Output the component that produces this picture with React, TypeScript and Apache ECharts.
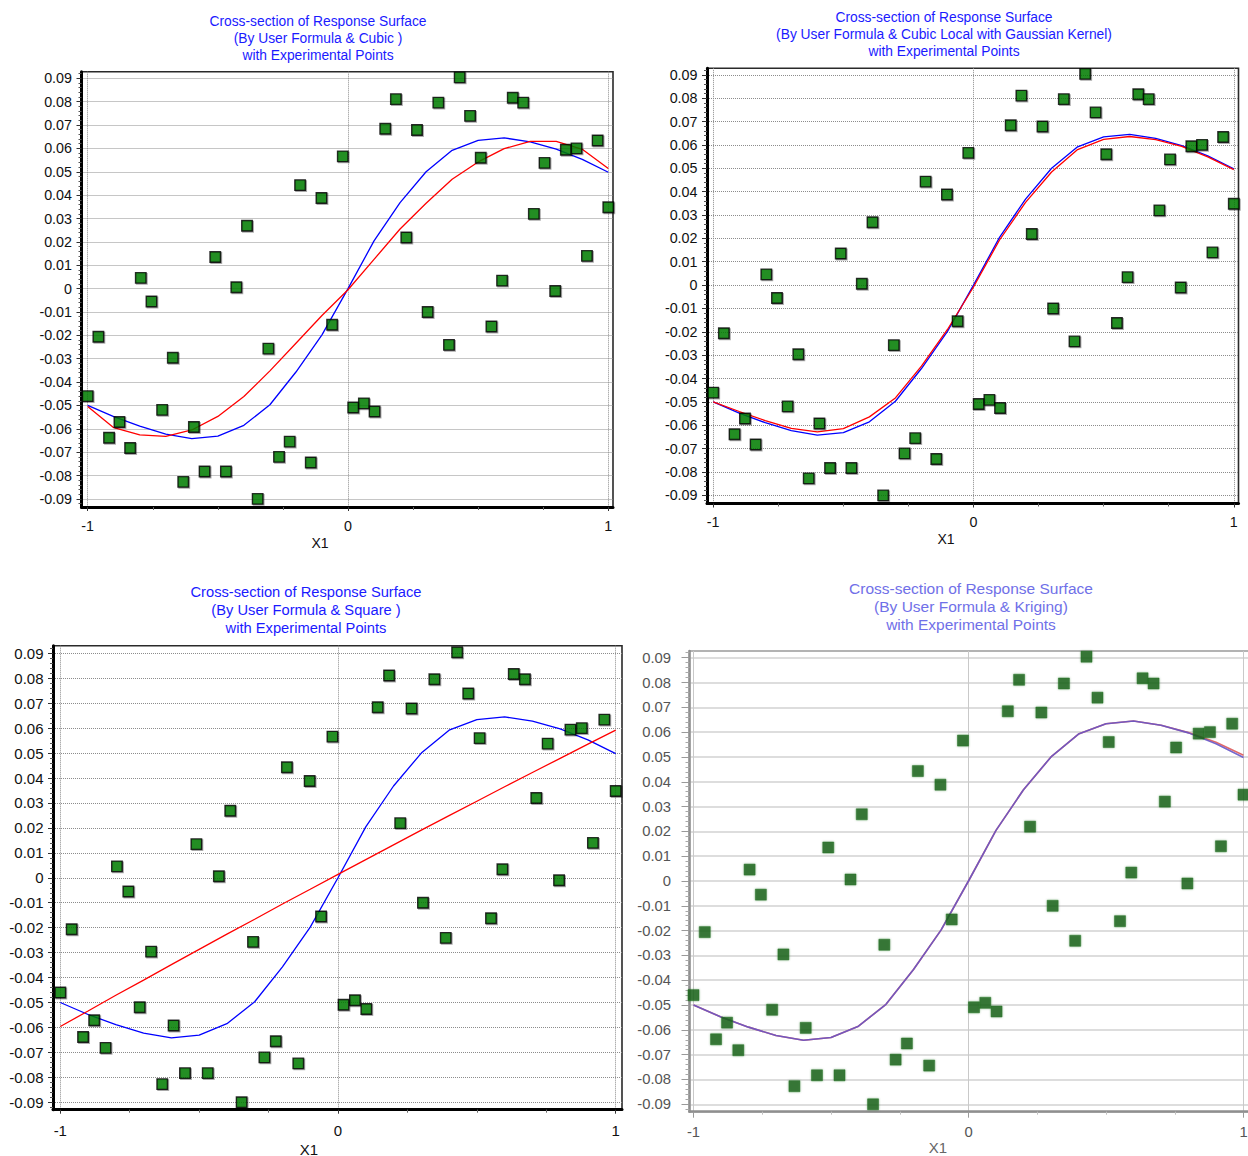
import React, { useEffect, useRef } from "react";
import * as echarts from "echarts";

// ---------- data ----------
const nodeX = [-1, -0.9, -0.8, -0.7, -0.6, -0.5, -0.4, -0.3, -0.2, -0.1, 0, 0.1, 0.2, 0.3, 0.4, 0.5, 0.6, 0.7, 0.8, 0.9, 1];

// "User Formula" curve (blue)
const userFormula = [-0.05, -0.0548, -0.0589, -0.0623, -0.0642, -0.0631, -0.0585, -0.0497, -0.0357, -0.0198, 0.0, 0.0204, 0.0368, 0.05, 0.0592, 0.0634, 0.0645, 0.0628, 0.0597, 0.0553, 0.0498];
// Cubic model (red, panel 1)
const cubic = [-0.0505, -0.0595, -0.0626, -0.0632, -0.0605, -0.0547, -0.0462, -0.0352, -0.0234, -0.0115, -0.0005, 0.0125, 0.0255, 0.0365, 0.0468, 0.0542, 0.0599, 0.063, 0.063, 0.0596, 0.0514];
// Cubic Local with Gaussian Kernel (red, panel 2)
const cubicLocal = [-0.05, -0.0541, -0.058, -0.0613, -0.0628, -0.0614, -0.0564, -0.0483, -0.0347, -0.019, -0.0008, 0.0193, 0.0354, 0.0484, 0.058, 0.0624, 0.0636, 0.0623, 0.0594, 0.0549, 0.0494];
// Square model (red, panel 3)
const square = [-0.0596, -0.0534, -0.0471, -0.041, -0.0348, -0.0287, -0.0226, -0.0166, -0.0105, -0.0046, 0.0014, 0.0073, 0.0132, 0.0191, 0.0249, 0.0307, 0.0365, 0.0422, 0.0479, 0.0536, 0.0592];
// Kriging (red, panel 4)
const kriging = [-0.05, -0.0548, -0.0589, -0.0623, -0.0642, -0.0631, -0.0585, -0.0497, -0.0357, -0.0198, 0.0, 0.0204, 0.0368, 0.05, 0.0592, 0.0634, 0.0645, 0.0628, 0.0598, 0.0559, 0.0507];

// Experimental points
const pointX = [-1, -0.959, -0.918, -0.878, -0.837, -0.796, -0.755, -0.714, -0.673, -0.633, -0.592, -0.551, -0.51, -0.469, -0.429, -0.388, -0.347, -0.306, -0.265, -0.224, -0.184, -0.143, -0.102, -0.061, -0.02, 0.02, 0.061, 0.102, 0.143, 0.184, 0.224, 0.265, 0.306, 0.347, 0.388, 0.429, 0.469, 0.51, 0.551, 0.592, 0.633, 0.673, 0.714, 0.755, 0.796, 0.837, 0.878, 0.918, 0.959, 1];
const pointY = [-0.046, -0.0206, -0.0638, -0.0571, -0.0682, 0.0046, -0.0055, -0.0519, -0.0296, -0.0827, -0.0592, -0.0783, 0.0135, -0.0783, 0.0006, 0.0269, -0.09, -0.0257, -0.072, -0.0655, 0.0443, -0.0744, 0.0388, -0.0155, 0.0566, -0.0509, -0.0491, -0.0526, 0.0684, 0.0811, 0.0219, 0.0679, -0.01, 0.0796, -0.0241, 0.0904, 0.0739, 0.056, -0.0162, 0.0034, 0.0817, 0.0796, 0.032, 0.0538, -0.001, 0.0594, 0.06, 0.014, 0.0634, 0.0348];

// Tick labels
const xTickValues = [-1, 0, 1];
const xMinorTickValues = [-0.75, -0.5, -0.25, 0.25, 0.5, 0.75];
const yTickValues = [-0.09, -0.08, -0.07, -0.06, -0.05, -0.04, -0.03, -0.02, -0.01, 0, 0.01, 0.02, 0.03, 0.04, 0.05, 0.06, 0.07, 0.08, 0.09];

// Texts
const titleLine1 = "Cross-section of Response Surface";
const titleLine3 = "with Experimental Points";
const methodLines = [
  "(By User Formula & Cubic )",
  "(By User Formula & Cubic Local with Gaussian Kernel)",
  "(By User Formula & Square )",
  "(By User Formula & Kriging)",
];
const xName = "X1";

// minor y tick positions (axis decoration only)
const yMinorTickValues: number[] = [];
for (let k = -47; k <= 47; k++) {
  if (k % 5 !== 0) yMinorTickValues.push(Math.round(k * 0.002 * 10000) / 10000);
}

const FONT = '"Liberation Sans", Arial, sans-serif';

type Panel = {
  l: number; t: number; r: number; b: number;
  xm1: number; x1: number; yt: number; yb: number;
  red: number[];
  soft: boolean;
  titleCx: number; titleY: number[]; titleFont: number;
  labelFont: number; xLabelMargin: number; yLabelMargin: number;
  nameX: number; nameY: number; nameFont: number;
};

const panels: Panel[] = [
  { l: 81.5, t: 71.7, r: 613, b: 507, xm1: 87.7, x1: 608.3, yt: 78.3, yb: 498.9, red: cubic, soft: false,
    titleCx: 318, titleY: [21, 38, 55], titleFont: 13.8, labelFont: 14.3, xLabelMargin: 12, yLabelMargin: 9.5,
    nameX: 320, nameY: 543, nameFont: 14 },
  { l: 707, t: 68.2, r: 1238.5, b: 503.5, xm1: 713.2, x1: 1233.8, yt: 74.8, yb: 495.4, red: cubicLocal, soft: false,
    titleCx: 944, titleY: [17, 34, 51], titleFont: 13.8, labelFont: 14.3, xLabelMargin: 11.5, yLabelMargin: 9.5,
    nameX: 946, nameY: 539, nameFont: 14 },
  { l: 53, t: 645.7, r: 622, b: 1109.7, xm1: 60.3, x1: 615.7, yt: 653.3, yb: 1102.3, red: square, soft: false,
    titleCx: 306, titleY: [592, 610, 628], titleFont: 14.7, labelFont: 15, xLabelMargin: 13, yLabelMargin: 9.5,
    nameX: 309, nameY: 1149, nameFont: 15 },
  { l: 689.5, t: 651, r: 1253, b: 1111.7, xm1: 693.5, x1: 1243.5, yt: 657.7, yb: 1104.3, red: kriging, soft: true,
    titleCx: 971, titleY: [588, 606, 624], titleFont: 15.5, labelFont: 14.8, xLabelMargin: 13, yLabelMargin: 18.5,
    nameX: 938, nameY: 1147, nameFont: 15 },
];

function buildOption() {
  const grid: any[] = [];
  const xAxis: any[] = [];
  const yAxis: any[] = [];
  const series: any[] = [];
  const graphic: any[] = [];

  panels.forEach((p, i) => {
    const xPer = (p.x1 - p.xm1) / 2;
    const xmin = -1 - (p.xm1 - p.l) / xPer;
    const xmax = 1 + (p.r - p.x1) / xPer;
    const yPer = (p.yb - p.yt) / 0.18;
    const ymax = 0.09 + (p.yt - p.t) / yPer;
    const ymin = -0.09 - (p.b - p.yb) / yPer;

    const axisColor = p.soft ? "#8f8f8f" : "#000";
    const tickColor = p.soft ? "#9a9a9a" : "#333";
    const labelColor = p.soft ? "#555" : "#111";

    grid.push({
      left: p.l, top: p.t, width: p.r - p.l, height: p.b - p.t,
      show: true,
      borderColor: p.soft ? "#9a9a9a" : "#2a2a2a",
      borderWidth: p.soft ? 1.5 : 1.6,
      backgroundColor: "transparent",
      containLabel: false,
      outerBoundsMode: "none",
    });

    const xi = xAxis.length;
    xAxis.push({
      gridIndex: i, type: "value", position: "bottom", min: xmin, max: xmax,
      axisLine: { show: true, onZero: false, lineStyle: { color: axisColor, width: p.soft ? 2.5 : 3 } },
      axisTick: { show: true, inside: false, customValues: xTickValues, length: p.soft ? 6 : 4, lineStyle: { color: tickColor, width: 1 } },
      axisLabel: {
        show: true, customValues: xTickValues, margin: p.xLabelMargin, color: labelColor,
        fontSize: p.labelFont, fontFamily: FONT,
        formatter: (v: number) => String(Math.round(v)),
      },
      splitLine: {
        show: true,
        lineStyle: p.soft ? { color: "#c9c9c9", width: 1, type: "solid" } : { color: "#8c8c8c", width: 1, type: "dotted" },
      },
      minorTick: { show: false }, minorSplitLine: { show: false },
    });
    xAxis.push({
      gridIndex: i, type: "value", position: "bottom", min: xmin, max: xmax,
      axisLine: { show: false, onZero: false },
      axisTick: { show: true, inside: false, customValues: xMinorTickValues, length: 3, lineStyle: { color: p.soft ? "#c0c0c0" : "#666", width: 1 } },
      axisLabel: { show: false, customValues: xMinorTickValues },
      splitLine: { show: false },
    });

    const yi = yAxis.length;
    yAxis.push({
      gridIndex: i, type: "value", position: "left", min: ymin, max: ymax,
      axisLine: { show: true, onZero: false, lineStyle: { color: axisColor, width: p.soft ? 2.5 : 3 } },
      axisTick: { show: true, inside: false, customValues: yTickValues, length: p.soft ? 8 : 5, lineStyle: { color: tickColor, width: 1 } },
      axisLabel: {
        show: true, customValues: yTickValues, margin: p.yLabelMargin, color: labelColor,
        fontSize: p.labelFont, fontFamily: FONT,
        formatter: (v: number) => (Math.abs(v) < 1e-9 ? "0" : v.toFixed(2)),
      },
      splitLine: {
        show: true,
        lineStyle: p.soft ? { color: "#d2d2d2", width: 1.5, type: "solid" } : { color: "#8c8c8c", width: 1, type: "dotted" },
      },
      minorTick: { show: false }, minorSplitLine: { show: false },
    });
    yAxis.push({
      gridIndex: i, type: "value", position: "left", min: ymin, max: ymax,
      axisLine: { show: false, onZero: false },
      axisTick: { show: true, inside: false, customValues: yMinorTickValues, length: p.soft ? 4 : 3, lineStyle: { color: p.soft ? "#a8a8a8" : "#555", width: 1 } },
      axisLabel: { show: false, customValues: yMinorTickValues },
      splitLine: { show: false },
    });

    const blueColor = p.soft ? "#6655c8" : "#0000ff";
    const redColor = p.soft ? "#e06a6a" : "#ff0000";

    series.push({
      type: "line", xAxisIndex: xi, yAxisIndex: yi,
      data: nodeX.map((x, k) => [x, p.red[k]]),
      showSymbol: false, symbol: "none", silent: true, z: 2,
      lineStyle: { color: redColor, width: p.soft ? 1.6 : 1.3 },
    });
    series.push({
      type: "line", xAxisIndex: xi, yAxisIndex: yi,
      data: nodeX.map((x, k) => [x, userFormula[k]]),
      showSymbol: false, symbol: "none", silent: true, z: p.soft ? 3 : 1,
      lineStyle: { color: blueColor, width: p.soft ? 1.6 : 1.3, opacity: p.soft ? 0.9 : 1 },
    });
    series.push({
      type: "scatter", xAxisIndex: xi, yAxisIndex: yi,
      data: pointX.map((x, k) => [x, pointY[k]]),
      symbol: "rect", symbolSize: p.soft ? 11 : 10.5, clip: false, silent: true, z: 4,
      itemStyle: p.soft
        ? { color: "#166216", borderColor: "#237023", borderWidth: 0.6, shadowColor: "rgba(30,100,30,0.45)", shadowBlur: 2 }
        : { color: "#008000", borderColor: "#000", borderWidth: 1.4, shadowColor: "rgba(0,0,0,0.4)", shadowBlur: 1.5, shadowOffsetX: 1, shadowOffsetY: 1 },
    });

    const titleColor = p.soft ? "#7070e8" : "#1a1aff";
    [titleLine1, methodLines[i], titleLine3].forEach((line, j) => {
      graphic.push({
        type: "text", x: p.titleCx, y: p.titleY[j], silent: true,
        style: {
          text: line, fill: titleColor, font: `${p.titleFont}px ${FONT}`,
          textAlign: "center", textVerticalAlign: "middle",
        },
      });
    });
    graphic.push({
      type: "text", x: p.nameX, y: p.nameY, silent: true,
      style: {
        text: xName, fill: p.soft ? "#666" : "#111", font: `${p.nameFont}px ${FONT}`,
        textAlign: "center", textVerticalAlign: "middle",
      },
    });
  });

  return {
    animation: false,
    backgroundColor: "#ffffff",
    grid, xAxis, yAxis, series, graphic,
  };
}

export default function App() {
  const ref = useRef<HTMLDivElement>(null);
  useEffect(() => {
    if (!ref.current) return;
    const chart = echarts.init(ref.current, undefined, { renderer: "svg" });
    chart.setOption(buildOption() as any);
    return () => chart.dispose();
  }, []);
  return (
    <div
      ref={ref}
      style={{ position: "fixed", left: 0, top: 0, width: 1248, height: 1156, background: "#fff" }}
    />
  );
}
